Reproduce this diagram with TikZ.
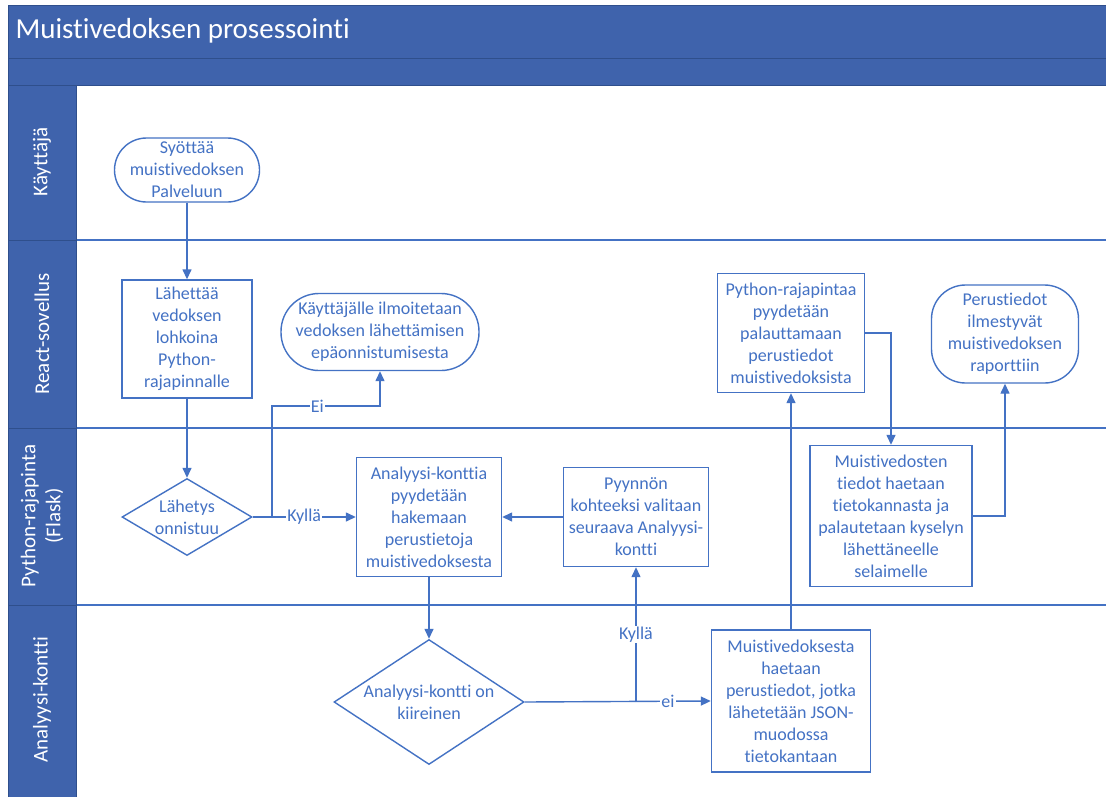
\documentclass[tikz,border=0pt]{standalone}
\usepackage{fontspec}
\setmainfont{Carlito}[Ligatures=NoCommon]
\usetikzlibrary{arrows.meta,shapes.geometric}
\definecolor{hdr}{RGB}{63,99,172}
\definecolor{hdrline}{RGB}{47,79,140}
\definecolor{ln}{RGB}{68,114,196}
\begin{document}
\begin{tikzpicture}[x=1pt,y=-1pt,
  nodefont/.style={font=\fontsize{18}{22}\selectfont},
  box/.style={draw=ln, line width=1.4pt, fill=white, text=ln, align=center, nodefont, inner sep=0pt},
  term/.style={box, rounded corners=#1},
  dia/.style={draw=ln, line width=1.4pt, fill=white, diamond, inner sep=0pt},
  txt/.style={text=ln, align=center, nodefont, inner sep=0pt},
  arr/.style={draw=ln, line width=1.4pt, -{Triangle[length=10pt,width=9pt]}},
  lbl/.style={fill=white, text=ln, nodefont, inner sep=1pt},
  lane/.style={draw=hdrline, line width=1pt, fill=hdr},
  lanetxt/.style={text=white, align=center, rotate=90, font=\fontsize{21}{25}\selectfont},
  sep/.style={draw=ln, line width=1.8pt}
]
\useasboundingbox (0,0) rectangle (1106,796);
\fill[white] (0,0) rectangle (1106,796);
% title bars
\path[lane] (8,5) rectangle (1110,58);
\path[lane] (8,58) rectangle (1110,85);
\node[text=white, anchor=west, font=\fontsize{29}{33}\selectfont] (title) at (12,31) {Muistivedoksen prosessointi};
% lane separators
\draw[sep] (8,240) -- (1110,240);
\draw[sep] (8,428) -- (1110,428);
\draw[sep] (8,605) -- (1110,605);
% lane headers
\path[lane] (8,85) rectangle (76,240);
\path[lane] (8,240) rectangle (76,428);
\path[lane] (8,428) rectangle (76,605);
\path[lane] (8,605) rectangle (76,800);
\node[lanetxt] (l1) at (42,162) {Käyttäjä};
\node[lanetxt] (l2) at (42,334) {React-sovellus};
\node[lanetxt] (l3) at (42,516) {Python-rajapinta\\(Flask)};
\node[lanetxt] (l4) at (42,700) {Analyysi-kontti};

% nodes
\node[term=32pt, minimum width=145pt, minimum height=64pt] (n1) at (187,170) {Syöttää\\muistivedoksen\\Palveluun};
\node[box, minimum width=130pt, minimum height=118pt] (n2) at (187,339) {Lähettää\\vedoksen\\lohkoina\\Python-\\rajapinnalle};
\node[term=38pt, minimum width=198pt, minimum height=77pt] (n3) at (380,332) {Käyttäjälle ilmoitetaan\\vedoksen lähettämisen\\epäonnistumisesta};
\node[dia, minimum width=130pt, minimum height=77pt] (d1) at (187,517) {};
\node[txt] (d1t) at (d1) {Lähetys\\onnistuu};
\node[box, minimum width=145pt, minimum height=119pt] (n5) at (429,517) {Analyysi-konttia\\pyydetään\\hakemaan\\perustietoja\\muistivedoksesta};
\node[box, minimum width=145pt, minimum height=99pt] (n6) at (636,517) {Pyynnön\\kohteeksi valitaan\\seuraava Analyysi-\\kontti};
\node[box, minimum width=147pt, minimum height=119pt] (n7) at (791,333) {Python-rajapintaa\\pyydetään\\palauttamaan\\perustiedot\\muistivedoksista};
\node[term=34pt, minimum width=147pt, minimum height=98pt] (n8) at (1005,334) {Perustiedot\\ilmestyvät\\muistivedoksen\\raporttiin};
\node[box, minimum width=162pt, minimum height=141pt] (n9) at (891,516) {Muistivedosten\\tiedot haetaan\\tietokannasta ja\\palautetaan kyselyn\\lähettäneelle\\selaimelle};
\node[dia, minimum width=190pt, minimum height=125pt] (d2) at (429,702) {};
\node[txt] (d2t) at (d2) {Analyysi-kontti on\\kiireinen};
\node[box, minimum width=159pt, minimum height=142pt] (n11) at (791,701) {Muistivedoksesta\\haetaan\\perustiedot, jotka\\lähetetään JSON-\\muodossa\\tietokantaan};

% connectors
\coordinate (eiA) at (272,517);
\coordinate (eiB) at (272,406);
\draw[arr] (n1) -- (n2);
\draw[arr] (n2) -- (d1);
\draw[arr] (d1.east) -- node[lbl]{Kyllä} (n5.west);
\draw[arr] (eiA) -- (eiB) -- node[lbl, pos=0.42]{Ei} (eiB -| n3.south) -- (n3.south);
\draw[arr] (n6.west) -- (n5.east);
\draw[arr] (n5.south) -- (d2.north);
\draw[arr] (d2.east) -- node[lbl, pos=0.77]{ei} (n11.west);
\draw[arr] (d2.east -| n6.south) -- node[lbl]{Kyllä} (n6.south);
\draw[arr] (n11.north) -- (n7.south);
\draw[arr] (n7.east) -| (n9.north);
\draw[arr] (n9.east) -| (n8.south);
\end{tikzpicture}
\end{document}
